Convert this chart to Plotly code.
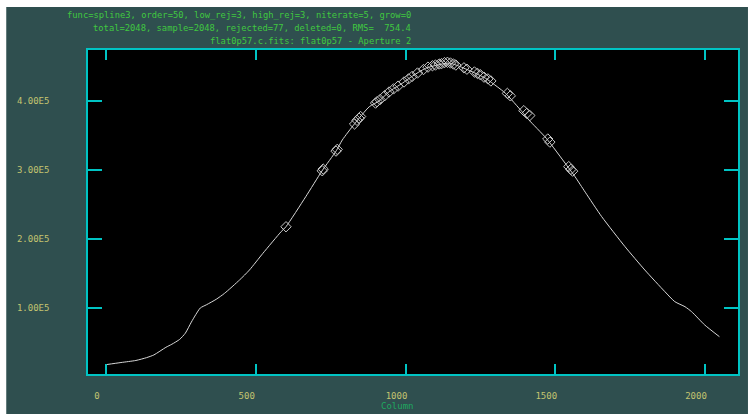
import plotly.graph_objects as go

# ---- data ----
columns = [1, 50, 100, 135, 160, 200, 220, 246, 265, 285, 300, 315, 335, 368, 396,
           446, 479, 524, 585, 601, 667, 721, 769, 789, 830, 879, 912, 945, 989,
           1023, 1067, 1111, 1145, 1178, 1222, 1267, 1306, 1334, 1389, 1411, 1470,
           1538, 1566, 1600, 1655, 1733, 1799, 1866, 1899, 1933, 1955, 1999, 2048]
counts = [18500, 21500, 24500, 28500, 32500, 43500, 48000, 55000, 64000, 80000,
          91000, 100500, 105000, 113000, 121700, 141000, 155400, 179600, 211000,
          218100, 261500, 298700, 328100, 343600, 367000, 391700, 400000, 413400,
          425600, 436000, 447300, 452500, 455000, 450500, 442400, 432900, 420700,
          411100, 384500, 373000, 346000, 307000, 290400, 268000, 232600, 189100,
          155400, 124000, 109600, 102300, 95100, 75800, 58900]

rej_cols = [601, 722, 725, 768, 772, 830, 838, 845, 850, 900, 905, 915, 930, 945,
            960, 975, 995, 1010, 1022, 1040, 1060, 1075, 1090, 1100, 1112, 1120,
            1130, 1140, 1150, 1160, 1168, 1195, 1205, 1230, 1240, 1250, 1262, 1275,
            1285, 1340, 1350, 1395, 1405, 1415, 1475, 1482, 1545, 1552, 1558]
rej_vals = [218000, 299000, 301500, 327500, 330000, 366700, 372000, 375000, 377500,
            397000, 399000, 402000, 407500, 413000, 417500, 421500, 427500, 432000,
            435500, 440500, 445500, 449000, 451000, 452000, 453500, 454000, 455500,
            456000, 455000, 453500, 452000, 448000, 446000, 442000, 440000, 438000,
            434500, 432000, 429000, 411000, 407500, 386000, 382000, 379000, 345000,
            340500, 305000, 301000, 298500]

x_ticks = [0, 500, 1000, 1500, 2000]
x_labels = ["0", "500", "1000", "1500", "2000"]
y_ticks = [100000, 200000, 300000, 400000]
y_labels = ["1.00E5", "2.00E5", "3.00E5", "4.00E5"]

title_lines = [
    "func=spline3, order=50, low_rej=3, high_rej=3, niterate=5, grow=0",
    "total=2048, sample=2048, rejected=77, deleted=0, RMS=  754.4",
    "flat0p57.c.fits: flat0p57 - Aperture 2",
]

# ---- style ----
W, H = 748, 414
L, R, T, B = 88, 8, 50, 40
PW, PH = W - L - R, H - T - B
SLATE = "#2F4F4F"
CYAN = "#00C4C4"
TICKCOL = "#C4C470"
TITLECOL = "#40C840"
XLABCOL = "#20A860"
MONO = "DejaVu Sans Mono"


def px_x(p):
    return (p - L) / PW


def px_y(p):
    return (H - B - p) / PH


fig = go.Figure()
fig.add_trace(go.Scatter(x=columns, y=counts, mode="lines",
                         line=dict(color="#D8D8D8", width=1, shape="spline", smoothing=0.6),
                         hoverinfo="skip", showlegend=False))
fig.add_trace(go.Scatter(x=rej_cols, y=rej_vals, mode="markers",
                         marker=dict(symbol="diamond-open", size=8,
                                     color="#C8C8C8", line=dict(width=1)),
                         showlegend=False))

axis_common = dict(showgrid=False, zeroline=False, showline=True, linecolor=CYAN,
                   linewidth=1.5, mirror="allticks", ticks="inside", tickcolor=CYAN,
                   tickwidth=1.5, tickfont=dict(family=MONO, size=9, color=TICKCOL))

fig.update_xaxes(range=[-60, 2110], tickvals=x_ticks, ticktext=x_labels, ticklen=10,
                 ticklabelstandoff=12, ticklabelshift=-9, **axis_common)
fig.update_yaxes(range=[4900, 473800], tickvals=y_ticks, ticktext=y_labels, ticklen=14,
                 ticklabelstandoff=35, **axis_common)

annotations = []
for i, line in enumerate(title_lines):
    annotations.append(dict(text=line, xref="paper", yref="paper", x=px_x(414),
                            y=px_y(14.7 + 13.3 * i), xanchor="right", yanchor="middle",
                            showarrow=False,
                            font=dict(family=MONO, size=8.8, color=TITLECOL)))
annotations.append(dict(text="Column", xref="paper", yref="paper", x=px_x(398),
                        y=px_y(413), xanchor="center", yanchor="bottom", showarrow=False,
                        font=dict(family=MONO, size=9, color=XLABCOL)))

shapes = [
    dict(type="rect", xref="paper", yref="paper", x0=px_x(6), x1=px_x(W + 2),
         y0=px_y(H + 2), y1=px_y(7), fillcolor=SLATE, line=dict(width=0), layer="below"),
    dict(type="rect", xref="paper", yref="paper", x0=0, x1=1, y0=0, y1=1,
         fillcolor="black", line=dict(width=0), layer="below"),
]

fig.update_layout(width=W, height=H, margin=dict(l=L, r=R, t=T, b=B, pad=0),
                  paper_bgcolor="white", plot_bgcolor="rgba(0,0,0,0)",
                  annotations=annotations, shapes=shapes, showlegend=False)

fig.write_html("out.html", config={"displayModeBar": False})
